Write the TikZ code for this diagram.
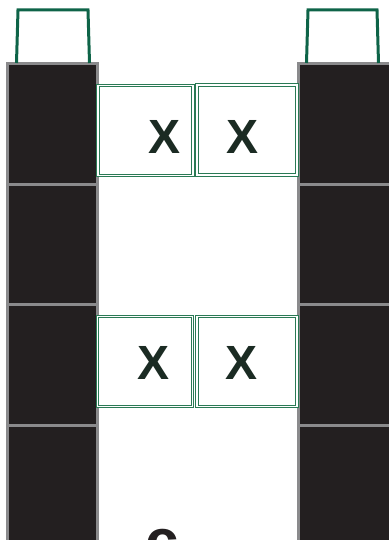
\documentclass[tikz,border=0pt]{standalone}
\usepackage{fontspec}
\setmainfont{Liberation Sans}
\usetikzlibrary{positioning}

\definecolor{cellfill}{HTML}{231F20}
\definecolor{cellline}{HTML}{8A8A8C}
\definecolor{handlegreen}{HTML}{0E6448}
\definecolor{boxgreen}{HTML}{2A7A55}
\definecolor{markdark}{HTML}{1B2B23}

\begin{document}
\begin{tikzpicture}[
        x=1pt, y=-1pt,
        cell/.style={
            rectangle,
            draw=cellline,
            fill=cellfill,
            line width=3pt,
            minimum width=90pt,
            minimum height=120.5pt,
            inner sep=0pt,
            outer sep=0pt
        },
        slot/.style={
            rectangle,
            draw=boxgreen,
            double=white,
            double distance=1.6pt,
            line width=0.8pt,
            minimum height=90pt,
            inner sep=0pt,
            outer sep=0pt
        },
        handle/.style={
            draw=handlegreen,
            line width=3pt,
            line join=miter
        },
        xmark/.style={
            text=markdark,
            font=\fontsize{48}{48}\selectfont\bfseries,
            inner sep=0pt
        }
    ]

    \useasboundingbox (0,0) rectangle (388,540);

    % Left column
    \node[cell] (L1) at (52,123.75) {};
    \node[cell, below=0pt of L1] (L2) {};
    \node[cell, below=0pt of L2] (L3) {};
    \node[cell, below=0pt of L3] (L4) {};

    % Right column
    \node[cell, minimum width=94pt] (R1) at (345,123.75) {};
    \node[cell, minimum width=94pt, below=0pt of R1] (R2) {};
    \node[cell, minimum width=94pt, below=0pt of R2] (R3) {};
    \node[cell, minimum width=94pt, below=0pt of R3] (R4) {};

    % Handles
    \draw[handle] (16.5,63) -- (18,10) -- (88,10) -- (89.5,63);
    \draw[handle] (306.5,63) -- (308,10) -- (377,10) -- (378.5,63);

    % Upper slots
    \node[slot, minimum width=95pt] (SA) at (145.5,130.5) {};
    \node[slot, minimum width=100pt] (SB) at (247,130) {};
    \node[xmark] (XA) at (165,137) {X};
    \node[xmark] (XB) at (243,137) {X};

    % Lower slots
    \node[slot, minimum width=95pt] (SC) at (145,361.5) {};
    \node[slot, minimum width=100pt] (SD) at (247,361.5) {};
    \node[xmark] (XC) at (154,363) {X};
    \node[xmark] (XD) at (242,363) {X};

    % Cut-off letter at the bottom
    \node[text=cellfill, font=\fontsize{60}{60}\selectfont\bfseries, anchor=base, inner sep=0pt] (cut) at (162,561) {c};

\end{tikzpicture}
\end{document}
